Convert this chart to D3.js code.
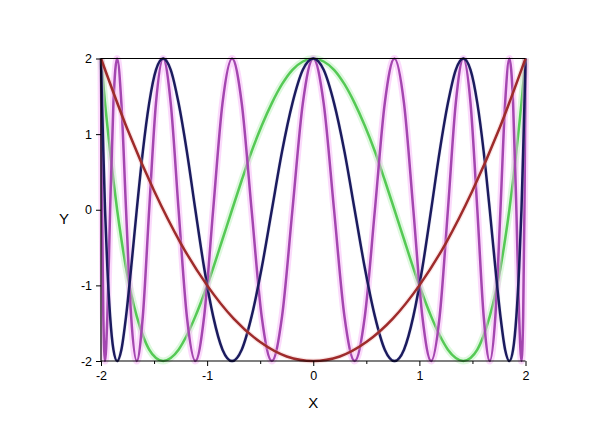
<!DOCTYPE html>
<html>
<head>
<meta charset="utf-8">
<script src="https://cdn.jsdelivr.net/npm/d3@7"></script>
<style>
  html, body { margin: 0; padding: 0; background: #fff; }
  svg { display: block; font-family: Arial, "Liberation Sans", sans-serif; }
</style>
</head>
<body>
<svg id="chart" width="606" height="433"></svg>
<script>
// ---- data ----
const xTicks = [-2, -1, 0, 1, 2];
const xMinorTicks = [-1.5, -0.5, 0.5, 1.5];
const yTicks = [-2, -1, 0, 1, 2];

// shared x sample positions (denser near the ends)
const xGrid = [-2.000,-1.998,-1.990,-1.978,-1.962,-1.940,-1.914,-1.883,-1.848,-1.808,-1.764,-1.716,-1.663,-1.606,-1.546,-1.482,-1.414,-1.343,-1.269,-1.191,-1.111,-1.028,-0.943,-0.855,-0.765,-0.674,-0.581,-0.486,-0.390,-0.294,-0.196,-0.098,0,
  0.098,0.196,0.294,0.390,0.486,0.581,0.674,0.765,0.855,0.943,1.028,1.111,1.191,1.269,1.343,1.414,1.482,1.546,1.606,1.663,1.716,1.764,1.808,1.848,1.883,1.914,1.940,1.962,1.978,1.990,1.998,2.000];

const yGreen = [2,1.96,1.85,1.66,1.41,1.11,0.77,0.39,0,-0.39,-0.77,-1.11,-1.41,-1.66,-1.85,-1.96,-2,-1.96,-1.85,-1.66,-1.41,-1.11,-0.77,-0.39,0,0.39,0.77,1.11,1.41,1.66,1.85,1.96,2,
  1.96,1.85,1.66,1.41,1.11,0.77,0.39,0,-0.39,-0.77,-1.11,-1.41,-1.66,-1.85,-1.96,-2,-1.96,-1.85,-1.66,-1.41,-1.11,-0.77,-0.39,0,0.39,0.77,1.11,1.41,1.66,1.85,1.96,2];

const yBlue = [2,1.85,1.41,0.77,0,-0.77,-1.41,-1.85,-2,-1.85,-1.41,-0.77,0,0.77,1.41,1.85,
  2,1.85,1.41,0.77,0,-0.77,-1.41,-1.85,-2,-1.85,-1.41,-0.77,0,0.77,1.41,1.85,2,
  1.85,1.41,0.77,0,-0.77,-1.41,-1.85,-2,-1.85,-1.41,-0.77,0,0.77,1.41,1.85,2,
  1.85,1.41,0.77,0,-0.77,-1.41,-1.85,-2,-1.85,-1.41,-0.77,0,0.77,1.41,1.85,2];

const yMagenta = [2,1.41,0,-1.41,-2,-1.41,0,1.41, 2,1.41,0,-1.41,-2,-1.41,0,1.41,
  2,1.41,0,-1.41,-2,-1.41,0,1.41, 2,1.41,0,-1.41,-2,-1.41,0,1.41, 2,
  1.41,0,-1.41,-2,-1.41,0,1.41,2, 1.41,0,-1.41,-2,-1.41,0,1.41,2,
  1.41,0,-1.41,-2,-1.41,0,1.41,2, 1.41,0,-1.41,-2,-1.41,0,1.41,2];

const xRed = [-2,-1.75,-1.5,-1.25,-1,-0.75,-0.5,-0.25,0,0.25,0.5,0.75,1,1.25,1.5,1.75,2];
const yRed = [2,1.06,0.25,-0.44,-1,-1.44,-1.75,-1.94,-2,-1.94,-1.75,-1.44,-1,-0.44,0.25,1.06,2];

// ---- drawing ----
const svg = d3.select("#chart");
const x = d3.scaleLinear().domain([-2, 2]).range([101, 525.5]);
const y = d3.scaleLinear().domain([-2, 2]).range([361, 58.5]);

const line = d3.line()
  .x(d => x(d[0])).y(d => y(d[1]))
  .curve(d3.curveMonotoneX);

const series = [
  { xs: xGrid, ys: yGreen,   color: "#55c955", glow: "#b5f0b5", gw: 7, go: 0.45 },
  { xs: xGrid, ys: yMagenta, color: "#a446b0", glow: "#f6aef6", gw: 7, go: 0.45 },
  { xs: xGrid, ys: yBlue,    color: "#1b1b5e", glow: "#b9b6e0", gw: 4, go: 0.25 },
  { xs: xRed,  ys: yRed,     color: "#9e2b2b", glow: "#f0b0b0", gw: 5, go: 0.3 }
];

const plot = svg.append("g");
series.forEach(s => {
  const pts = s.xs.map((v, i) => [v, s.ys[i]]);
  plot.append("path").datum(pts).attr("d", line)
    .attr("fill", "none").attr("stroke", s.glow)
    .attr("stroke-width", s.gw).attr("stroke-opacity", s.go)
    .attr("stroke-linejoin", "round");
  plot.append("path").datum(pts).attr("d", line)
    .attr("fill", "none").attr("stroke", s.color)
    .attr("stroke-width", 2.5).attr("stroke-linejoin", "round");
});

// axes
const fmt = d => d < 0 ? "-" + Math.abs(d) : String(d);
const xAxis = d3.axisBottom(x).tickValues(xTicks).tickFormat(fmt)
  .tickSize(5).tickPadding(5);
const gx = svg.append("g").attr("transform", `translate(0,${y(-2)})`).call(xAxis);
gx.selectAll(".tick line").attr("stroke", "#000").attr("stroke-width", 1);
gx.select(".domain").attr("stroke", "#000").attr("stroke-width", 1.2)
  .attr("d", `M${x(-2)},0H${x(2)}`);
gx.selectAll("text").attr("font-size", 12.5).attr("fill", "#000");

const gxm = svg.append("g").attr("transform", `translate(0,${y(-2)})`)
  .call(d3.axisBottom(x).tickValues(xMinorTicks).tickSize(3).tickFormat(""));
gxm.select(".domain").remove();
gxm.selectAll(".tick line").attr("stroke", "#000");

const yAxis = d3.axisLeft(y).tickValues(yTicks).tickFormat(fmt).tickSize(5).tickPadding(4);
const gy = svg.append("g").attr("transform", `translate(${x(-2)},0)`).call(yAxis);
gy.select(".domain").attr("stroke", "#000").attr("stroke-width", 1.2)
  .attr("d", `M0,${y(-2)}V${y(2)}`);
gy.selectAll(".tick line").attr("stroke", "#000");
gy.selectAll("text").attr("font-size", 12.5).attr("fill", "#000");

// top frame line
svg.append("line")
  .attr("x1", x(-2)).attr("x2", x(2)).attr("y1", y(2)).attr("y2", y(2))
  .attr("stroke", "#000").attr("stroke-width", 1.2);

// axis titles
svg.append("text").attr("x", (x(-2) + x(2)) / 2).attr("y", 408)
  .attr("text-anchor", "middle").attr("font-size", 15).text("X");
svg.append("text").attr("x", 64).attr("y", 224)
  .attr("text-anchor", "middle").attr("font-size", 15).text("Y");
</script>
</body>
</html>
